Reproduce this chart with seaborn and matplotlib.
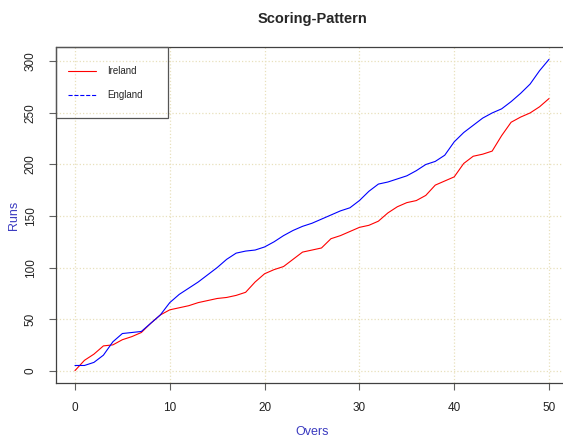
import pandas as pd
import seaborn as sns
from matplotlib import pyplot
from matplotlib.lines import Line2D
from matplotlib.patches import Rectangle

# cumulative runs at the end of each over
overs = list(range(51))
ireland_runs = [0, 10, 16, 24, 25, 30, 33, 37, 46, 54,
                59, 61, 63, 66, 68, 70, 71, 73, 76, 86,
                94, 98, 101, 108, 115, 117, 119, 128, 131, 135,
                139, 141, 145, 153, 159, 163, 165, 170, 180, 184,
                188, 201, 208, 210, 213, 228, 241, 246, 250, 256,
                264]
england_runs = [5, 5, 8, 15, 28, 36, 37, 38, 46, 54,
                66, 74, 80, 86, 93, 100, 108, 114, 116, 117,
                120, 125, 131, 136, 140, 143, 147, 151, 155, 158,
                165, 174, 181, 183, 186, 189, 194, 200, 203, 209,
                222, 231, 238, 245, 250, 254, 261, 269, 278, 291,
                302]
teams = ['Ireland', 'England']
x_ticks = [0, 10, 20, 30, 40, 50]
y_ticks = [0, 50, 100, 150, 200, 250, 300]

df = pd.concat([
	pd.DataFrame({'Overs': overs, 'Runs': ireland_runs, 'team': 'Ireland'}),
	pd.DataFrame({'Overs': overs, 'Runs': england_runs, 'team': 'England'}),
])

sns.set_style('white')
pyplot.rcParams['font.family'] = ['Liberation Sans', 'DejaVu Sans']

fig = pyplot.figure(figsize=(5.63, 4.37), dpi=100)
ax = fig.add_axes([56 / 563, 54 / 437, 512 / 563, 336 / 437])

colors = {'Ireland': 'red', 'England': 'blue'}
sns.lineplot(data=df, x='Overs', y='Runs', hue='team', palette=colors,
			 legend=False, linewidth=0.8, ax=ax)

ax.set_xlim(-2, 52)
ax.set_ylim(-12, 314)
ax.set_xticks(x_ticks)
ax.set_yticks(y_ticks)
ax.grid(True, linestyle=':', color='#e8e0bc', linewidth=0.9)
ax.set_axisbelow(True)

for s in ax.spines.values():
	s.set_color('#404040')
	s.set_linewidth(0.9)

ax.tick_params(axis='both', which='major', direction='out', length=5,
			   width=0.8, color='#606060', labelsize=8.5, labelcolor='#222222')
ax.tick_params(axis='x', pad=9, bottom=True)
ax.tick_params(axis='y', pad=9, left=True)
for lab in ax.get_yticklabels():
	lab.set_rotation(90)
	lab.set_verticalalignment('center')

ax.set_xlabel('Overs', color='#3b3bc0', fontsize=9, labelpad=8)
ax.set_ylabel('Runs', color='#3b3bc0', fontsize=9, labelpad=3)
ax.set_title('Scoring-Pattern', fontsize=10.5, fontweight='bold', pad=17)

# legend box in the top left corner
ax.add_patch(Rectangle((0, 0.789), 0.219, 0.211, transform=ax.transAxes,
					   fill=False, edgecolor='#555555', linewidth=0.9,
					   clip_on=False, zorder=5))
handles = [Line2D([], [], color='red', linewidth=0.8),
		   Line2D([], [], color='blue', linewidth=0.8, linestyle='--')]
ax.legend(handles, teams, loc='upper left', bbox_to_anchor=(0.0, 0.955),
		  frameon=False, fontsize=7, handlelength=2.9, handletextpad=1.1,
		  labelspacing=1.45, borderpad=0.0, borderaxespad=0.0)
ax.get_legend().set_bbox_to_anchor((12 / 512, 1 - 19 / 336), transform=ax.transAxes)

fig.savefig('out.png', dpi=100)
